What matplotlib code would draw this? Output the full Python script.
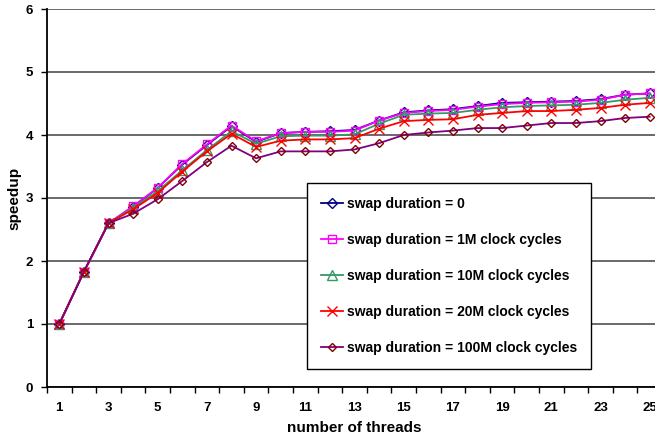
import matplotlib
matplotlib.use("Agg")
import matplotlib.pyplot as plt
from matplotlib.ticker import FixedLocator, NullFormatter

threads = list(range(1, 26))
x_tick_labels = [str(n) for n in range(1, 26, 2)]

swap_0 = [1.00, 1.83, 2.60, 2.86, 3.16, 3.53, 3.84, 4.14, 3.89, 4.03, 4.05, 4.06, 4.08, 4.23, 4.36, 4.39, 4.41, 4.46, 4.51, 4.52, 4.53, 4.54, 4.57, 4.64, 4.66]
swap_1M = [1.00, 1.83, 2.60, 2.87, 3.16, 3.54, 3.85, 4.15, 3.90, 4.03, 4.05, 4.05, 4.07, 4.23, 4.35, 4.38, 4.40, 4.45, 4.49, 4.51, 4.52, 4.53, 4.56, 4.64, 4.66]
swap_10M = [1.00, 1.83, 2.60, 2.84, 3.11, 3.44, 3.76, 4.06, 3.86, 3.98, 3.99, 3.99, 4.01, 4.18, 4.32, 4.34, 4.35, 4.40, 4.44, 4.46, 4.47, 4.48, 4.51, 4.56, 4.59]
swap_20M = [1.00, 1.83, 2.60, 2.82, 3.08, 3.42, 3.74, 4.02, 3.81, 3.91, 3.93, 3.93, 3.95, 4.10, 4.22, 4.24, 4.25, 4.32, 4.35, 4.38, 4.38, 4.40, 4.43, 4.48, 4.51]
swap_100M = [1.00, 1.83, 2.60, 2.75, 2.98, 3.27, 3.57, 3.83, 3.63, 3.74, 3.74, 3.74, 3.77, 3.87, 4.00, 4.04, 4.07, 4.11, 4.11, 4.15, 4.19, 4.19, 4.22, 4.27, 4.29]

series = [
    ("swap duration = 0", swap_0),
    ("swap duration = 1M clock cycles", swap_1M),
    ("swap duration = 10M clock cycles", swap_10M),
    ("swap duration = 20M clock cycles", swap_20M),
    ("swap duration = 100M clock cycles", swap_100M),
]
styles = [
    dict(color="#000080", marker="D", ms=5, mfc="none", mec="#000080", mew=1.0),
    dict(color="#FF00FF", marker="s", ms=6, mfc="none", mec="#FF00FF", mew=1.0),
    dict(color="#339966", marker="^", ms=6.5, mfc="none", mec="#339966", mew=1.0),
    dict(color="#FF0000", marker="x", ms=7, mec="#FF0000", mew=1.0),
    dict(color="#800080", marker="D", ms=4, mfc="none", mec="#800000", mew=1.0),
]

plt.rcParams['font.family'] = ['Liberation Sans', 'DejaVu Sans']

fig = plt.figure(figsize=(6.55, 4.37), dpi=100)
ax = fig.add_axes([47/655, 50/437, 615/655, 378/437])

for (label, vals), st in zip(series, styles):
    ax.plot(threads, vals, lw=1.3, label=label, zorder=3, **st)

ax.set_xlim(0.5, 25.5)
ax.set_ylim(0, 6)

ax.xaxis.set_major_locator(FixedLocator([k + 0.5 for k in range(0, 26)]))
ax.xaxis.set_major_formatter(NullFormatter())
ax.xaxis.set_minor_locator(FixedLocator(list(range(1, 26, 2))))
ax.set_xticklabels(x_tick_labels, minor=True)
ax.tick_params(axis='x', which='major', direction='out', length=4, width=1, color='black')
ax.tick_params(axis='x', which='minor', length=0, pad=11, labelsize=9.5)
ax.set_yticks(range(0, 7))
ax.tick_params(axis='y', direction='out', length=4, width=1, pad=6, labelsize=9.5)
for lbl in ax.get_xticklabels(minor=True) + ax.get_yticklabels():
    lbl.set_fontweight('bold')

ax.yaxis.grid(True, color='#505050', lw=1.2, zorder=1)
ax.set_axisbelow(True)
for s in ['top', 'right']:
    ax.spines[s].set_visible(False)
ax.spines['left'].set_linewidth(1.3)
ax.spines['bottom'].set_linewidth(1.3)

ax.set_xlabel("number of threads", fontsize=11, fontweight='bold', labelpad=5)
ax.set_ylabel("speedup", fontsize=11, fontweight='bold', labelpad=3)

leg = ax.legend(loc='upper left', bbox_to_anchor=((307-47)/615, (387-183)/378),
                frameon=True, fancybox=False, edgecolor='black', framealpha=1,
                prop={'weight': 'bold', 'size': 10}, labelspacing=1.58,
                handlelength=1.6, handletextpad=0.3, borderpad=1.0, borderaxespad=0)
leg.get_frame().set_linewidth(1.0)

fig.savefig("out.png", dpi=100)
